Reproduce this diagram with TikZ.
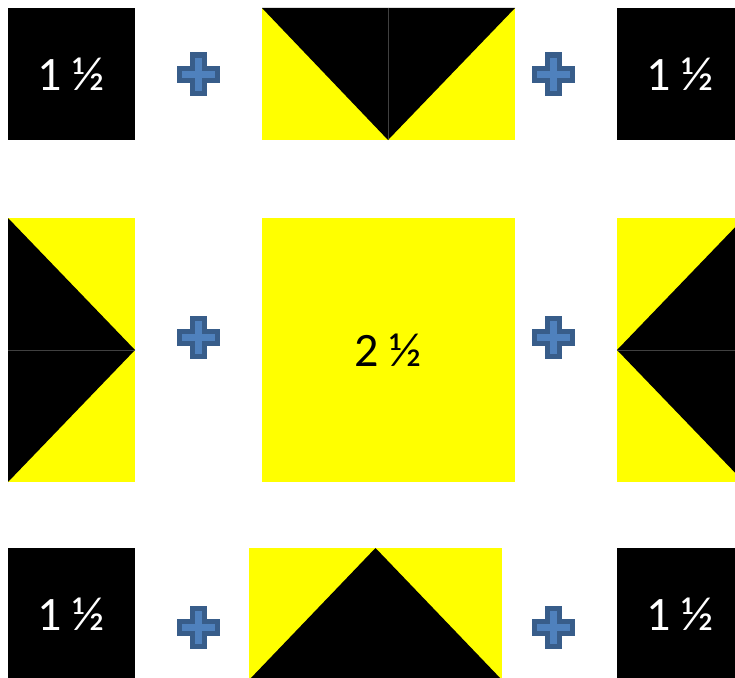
\documentclass[tikz,border=0pt]{standalone}
\usepackage{fontspec}
\setmainfont{Carlito}
\definecolor{blocky}{HTML}{FFFF00}
\definecolor{plusfill}{HTML}{4F81BD}
\definecolor{plusline}{HTML}{385D8A}
\definecolor{seam}{HTML}{404040}
\begin{document}
\begin{tikzpicture}[x=1pt, y=-1pt, line join=miter, font=\fontsize{48}{48}\selectfont]
	\tikzset{
		plus/.pic={
			\draw[fill=plusfill, draw=plusline, line width=5pt]
			(-6,-19) -- (6,-19) -- (6,-6) -- (19,-6) -- (19,6) -- (6,6) -- (6,19)
			-- (-6,19) -- (-6,6) -- (-19,6) -- (-19,-6) -- (-6,-6) -- cycle;
		},
		lbl/.style={inner sep=0pt, anchor=center},
		seamline/.style={seam, line width=0.75pt}
	}
	\useasboundingbox (0,0) rectangle (735,677);
	\clip (0,0) rectangle (735,677);
	
	% HÀNG TRÊN
	\fill[black] (8,8) rectangle (135,140);
	\node[lbl, text=white] (tl) at (71.5,74) {1 ½};
	\fill[blocky] (262,8) rectangle (515,140);
	\fill[black] (262,8) -- (515,8) -- (388,140) -- cycle;
	\draw[seamline] (388,8) -- (388,140);
	\fill[black] (617,8) rectangle (744,140);
	\node[lbl, text=white] (tr) at (680.5,74) {1 ½};
	\path (198.5,74) pic {plus};
	\path (553.5,74) pic {plus};
	
	% HÀNG GIỮA
	\fill[blocky] (8,218) rectangle (135,482);
	\fill[black] (8,218) -- (135,350) -- (8,482) -- cycle;
	\draw[seamline] (8,350) -- (135,350);
	\fill[blocky] (262,218) rectangle (515,482);
	\node[lbl, text=black] (mc) at (388.5,350) {2 ½};
	\fill[blocky] (617,218) rectangle (744,482);
	\fill[black] (744,218) -- (617,350) -- (744,482) -- cycle;
	\draw[seamline] (617,350) -- (744,350);
	\path (198,337) pic {plus};
	\path (553.5,337) pic {plus};
	
	% HÀNG DƯỚI
	\fill[black] (8,548) rectangle (135,680);
	\node[lbl, text=white] (bl) at (71.5,614) {1 ½};
	\fill[blocky] (249,548) rectangle (502,680);
	\fill[black] (375.5,548) -- (502,680) -- (249,680) -- cycle;
	\fill[black] (617,548) rectangle (744,680);
	\node[lbl, text=white] (br) at (680.5,614) {1 ½};
	\path (198,627) pic {plus};
	\path (553.5,627) pic {plus};
\end{tikzpicture}
\end{document}
